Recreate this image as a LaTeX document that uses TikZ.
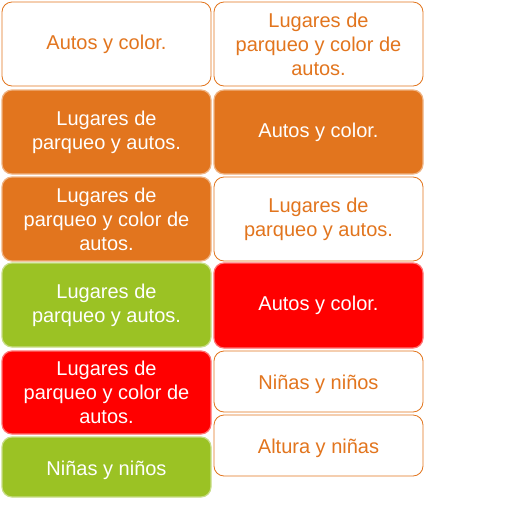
\documentclass[tikz,border=0pt]{standalone}
\usepackage{fontspec}
\setmainfont{Liberation Sans}
\definecolor{naranja}{RGB}{226,117,30}
\definecolor{verde}{RGB}{155,194,36}
\definecolor{rojo}{RGB}{255,0,0}
\begin{document}
\begin{tikzpicture}[x=1pt,y=-1pt,
  every node/.style={font=\fontsize{20}{24}\selectfont},
  caja/.style={rounded corners=10pt,minimum width=209pt,inner sep=0pt,align=center,line width=1.2pt},
  blanca/.style={caja,draw=naranja,fill=white,text=naranja,line width=0.8pt},
  llena/.style={caja,draw=#1!55!white,fill=#1,text=white},
  linea/.style={text height=20pt,text depth=4pt}]
\useasboundingbox (0,0) rectangle (512,512);
% columna izquierda
\node[blanca,minimum height=84pt] (l1) at (106.5,44) {Autos y color.};
\node[llena=naranja,minimum height=84pt] (l2) at (106.5,132) {Lugares de\\parqueo y autos.};
\node[llena=naranja,minimum height=84pt] (l3) at (106.5,219) {Lugares de\\parqueo y color de\\autos.};
\node[llena=verde,minimum height=84pt] (l4) at (106.5,305) {Lugares de\\parqueo y autos.};
\node[llena=rojo,minimum height=83pt] (l5) at (106.5,392.5) {Lugares de\\parqueo y color de\\autos.};
\node[llena=verde,linea,minimum height=60pt] (l6) at (106.5,467) {Niñas y niños};
% columna derecha
\node[blanca,minimum height=84pt] (r1) at (318.5,44) {Lugares de\\parqueo y color de\\autos.};
\node[llena=naranja,minimum height=84pt] (r2) at (318.5,132) {Autos y color.};
\node[blanca,minimum height=84pt] (r3) at (318.5,219) {Lugares de\\parqueo y autos.};
\node[llena=rojo,minimum height=85pt] (r4) at (318.5,305.5) {Autos y color.};
\node[blanca,linea,minimum height=61pt] (r5) at (318.5,381.5) {Niñas y niños};
\node[blanca,linea,minimum height=61pt] (r6) at (318.5,445.5) {Altura y niñas};
\end{tikzpicture}
\end{document}
